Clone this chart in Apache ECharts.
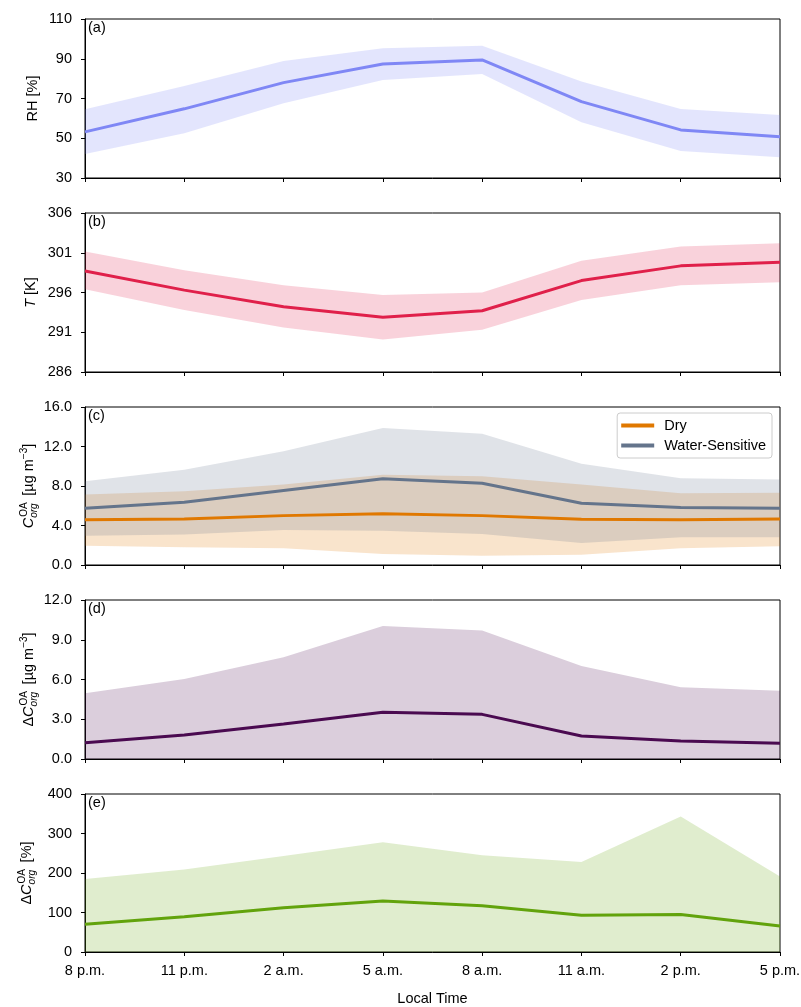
<!DOCTYPE html>
<html>
<head>
<meta charset="UTF-8">
<title>Diurnal cycle of RH, T and organic aerosol</title>
<script type="text/javascript" src="https://cdn.jsdelivr.net/npm/echarts@6/dist/echarts.min.js"></script>
<style>
    *{margin:0;padding:0}
    html,body{width:100%;height:100%;background:#fff}
    #main{width:801px;height:1007px}
</style>
</head>
<body>
<div id="main"></div>
<script type="text/javascript">
// local time categories (shared x axis)
var hours = ['8 p.m.', '11 p.m.', '2 a.m.', '5 a.m.', '8 a.m.', '11 a.m.', '2 p.m.', '5 p.m.'];

// (a) relative humidity
var rhMean = [53.2, 64.8, 78.0, 87.4, 89.4, 68.4, 54.2, 50.8];
var rhLow  = [42.1, 52.5, 67.6, 79.3, 82.3, 58.0, 43.6, 40.4];
var rhHigh = [64.6, 76.3, 88.9, 95.3, 96.6, 78.5, 64.7, 61.7];

// (b) temperature
var tMean = [298.7, 296.3, 294.2, 292.9, 293.7, 297.5, 299.35, 299.8];
var tLow  = [296.4, 293.8, 291.6, 290.1, 291.3, 295.05, 296.9, 297.3];
var tHigh = [301.15, 298.8, 296.9, 295.7, 296.0, 300.0, 301.8, 302.2];

// (c) C_org^OA, dry and water-sensitive
var dryMean = [4.57, 4.67, 5.0, 5.18, 5.0, 4.63, 4.57, 4.67];
var dryLow  = [1.96, 1.79, 1.69, 1.12, 0.94, 1.05, 1.69, 1.89];
var dryHigh = [7.14, 7.47, 8.15, 9.13, 9.0, 8.15, 7.27, 7.31];
var wetMean = [5.75, 6.36, 7.54, 8.73, 8.28, 6.25, 5.82, 5.75];
var wetLow  = [2.97, 3.08, 3.55, 3.48, 3.15, 2.23, 2.8, 2.8];
var wetHigh = [8.49, 9.64, 11.53, 13.87, 13.3, 10.25, 8.79, 8.66];

// (d) absolute difference
var dMean = [1.23, 1.81, 2.64, 3.52, 3.37, 1.74, 1.36, 1.18];
var dHigh = [4.96, 6.04, 7.67, 10.04, 9.69, 7.02, 5.41, 5.16];

// (e) relative difference
var eMean = [70, 89, 112, 129, 117, 93, 95, 66];
var eHigh = [185, 209, 243, 278, 245, 228, 343, 191];

var FONT = 'Liberation Sans, Arial, sans-serif';
var FS = 14.5;
var tops = [19, 213, 407, 600, 794];
var heights = [159, 159, 158, 159, 158];
var yRanges = [[30, 110, 20], [286, 306, 5], [0, 16, 4], [0, 12, 3], [0, 400, 100]];
var nameGaps = [42, 44, 46, 46, 48];
var labels = ['(a)', '(b)', '(c)', '(d)', '(e)'];

// all tokens align left so zrender lays them out one after the other;
// the 1px wide subscript lets the superscript sit on top of it
var richName = {
    n: {fontSize: FS, fontFamily: FONT, color: '#000', lineHeight: 20, align: 'left'},
    i: {fontSize: FS, fontFamily: FONT, fontStyle: 'italic', color: '#000', lineHeight: 20, align: 'left'},
    sb: {fontSize: 10, fontFamily: FONT, fontStyle: 'italic', color: '#000', lineHeight: 10,
         verticalAlign: 'bottom', align: 'left', width: 1},
    sp: {fontSize: 10, fontFamily: FONT, color: '#000', lineHeight: 10,
         verticalAlign: 'top', align: 'left', width: 17},
    e: {fontSize: 10, fontFamily: FONT, color: '#000', lineHeight: 10, verticalAlign: 'top', align: 'left'}
};
var yNames = [
    '{n|RH [%]}',
    '{i|T}{n| [K]}',
    '{i|C}{sb|org}{sp|OA}{n| [µg m}{e|−3}{n|]}',
    '{n|Δ}{i|C}{sb|org}{sp|OA}{n| [µg m}{e|−3}{n|]}',
    '{n|Δ}{i|C}{sb|org}{sp|OA}{n| [%]}'
];
var labelFmt = [
    function (v) { return v; },
    function (v) { return v; },
    function (v) { return v.toFixed(1); },
    function (v) { return v.toFixed(1); },
    function (v) { return v; }
];

var grids = [], xAxes = [], yAxes = [], titles = [];
for (var k = 0; k < 5; k++) {
    grids.push({left: 85, right: 21, top: tops[k], height: heights[k],
        containLabel: false, outerBoundsMode: 'none',
        show: true, borderColor: '#000', borderWidth: 1, backgroundColor: 'transparent'});
    xAxes.push({
        type: 'category', gridIndex: k, data: hours, boundaryGap: false,
        axisLine: {lineStyle: {color: '#000', width: 1}},
        axisTick: {show: true, length: 4, alignWithLabel: true, lineStyle: {color: '#000'}},
        axisLabel: {show: k === 4, fontSize: FS, fontFamily: FONT, color: '#000', margin: 11},
        splitLine: {show: false},
        name: k === 4 ? 'Local Time' : '', nameLocation: 'middle', nameGap: 39,
        nameTextStyle: {fontSize: FS, fontFamily: FONT, color: '#000'}
    });
    yAxes.push({
        type: 'value', gridIndex: k,
        min: yRanges[k][0], max: yRanges[k][1], interval: yRanges[k][2],
        axisLine: {show: true, lineStyle: {color: '#000', width: 1}},
        axisTick: {show: true, length: 4, lineStyle: {color: '#000'}},
        axisLabel: {fontSize: FS, fontFamily: FONT, color: '#000', margin: 13, formatter: labelFmt[k]},
        splitLine: {show: false},
        name: yNames[k], nameLocation: 'middle', nameRotate: 90, nameGap: nameGaps[k],
        nameMoveOverlap: false,
        nameTextStyle: {rich: richName}
    });
    titles.push({text: labels[k], left: 88, top: tops[k] + 1, padding: 0,
        textStyle: {fontSize: FS, fontFamily: FONT, fontWeight: 'normal', color: '#000'}});
}

function diff(hi, lo) {
    return hi.map(function (v, i) { return +(v - lo[i]).toFixed(3); });
}
function band(idx, stack, lo, hi, color, op) {
    return [
        {type: 'line', xAxisIndex: idx, yAxisIndex: idx, stack: stack, data: lo,
            symbol: 'none', lineStyle: {width: 0, opacity: 0}, silent: true, z: 1},
        {type: 'line', xAxisIndex: idx, yAxisIndex: idx, stack: stack, data: diff(hi, lo),
            symbol: 'none', lineStyle: {width: 0, opacity: 0}, silent: true, z: 1,
            areaStyle: {color: color, opacity: op}}
    ];
}
function meanLine(idx, name, data, color) {
    return {type: 'line', name: name, xAxisIndex: idx, yAxisIndex: idx, data: data,
        symbol: 'none', lineStyle: {width: 3, color: color}, itemStyle: {color: color}, z: 3};
}
function fillUp(idx, data, color, op) {
    return {type: 'line', xAxisIndex: idx, yAxisIndex: idx, data: data, symbol: 'none',
        lineStyle: {width: 0, opacity: 0}, silent: true, z: 1,
        areaStyle: {color: color, opacity: op, origin: 'start'}};
}

var series = [].concat(
    band(0, 'rh', rhLow, rhHigh, '#7f87f5', 0.22),
    [meanLine(0, 'RH', rhMean, '#7f87f5')],
    band(1, 't', tLow, tHigh, '#e0204a', 0.2),
    [meanLine(1, 'T', tMean, '#e0204a')],
    band(2, 'dry', dryLow, dryHigh, '#e07800', 0.2),
    band(2, 'wet', wetLow, wetHigh, '#64748b', 0.2),
    [meanLine(2, 'Water-Sensitive', wetMean, '#64748b'),
     meanLine(2, 'Dry', dryMean, '#e07800')],
    [fillUp(3, dHigh, '#4a0a50', 0.2), meanLine(3, 'dC', dMean, '#4a0a50')],
    [fillUp(4, eHigh, '#62a30c', 0.2), meanLine(4, 'dCp', eMean, '#62a30c')]
);

var option = {
    backgroundColor: '#fff',
    animation: false,
    title: titles,
    legend: {
        data: ['Dry', 'Water-Sensitive'],
        orient: 'vertical', right: 29, top: 413,
        icon: 'rect', itemWidth: 33, itemHeight: 4, itemGap: 5,
        padding: [5, 6, 5, 4],
        borderColor: '#ccc', borderWidth: 1, borderRadius: 3,
        backgroundColor: 'rgba(255,255,255,0.8)',
        textStyle: {fontSize: FS, fontFamily: FONT, color: '#000', padding: [0, 0, 0, 5]}
    },
    grid: grids,
    xAxis: xAxes,
    yAxis: yAxes,
    series: series
};

var myChart = echarts.init(document.getElementById('main'));
myChart.setOption(option);
</script>
</body>
</html>
